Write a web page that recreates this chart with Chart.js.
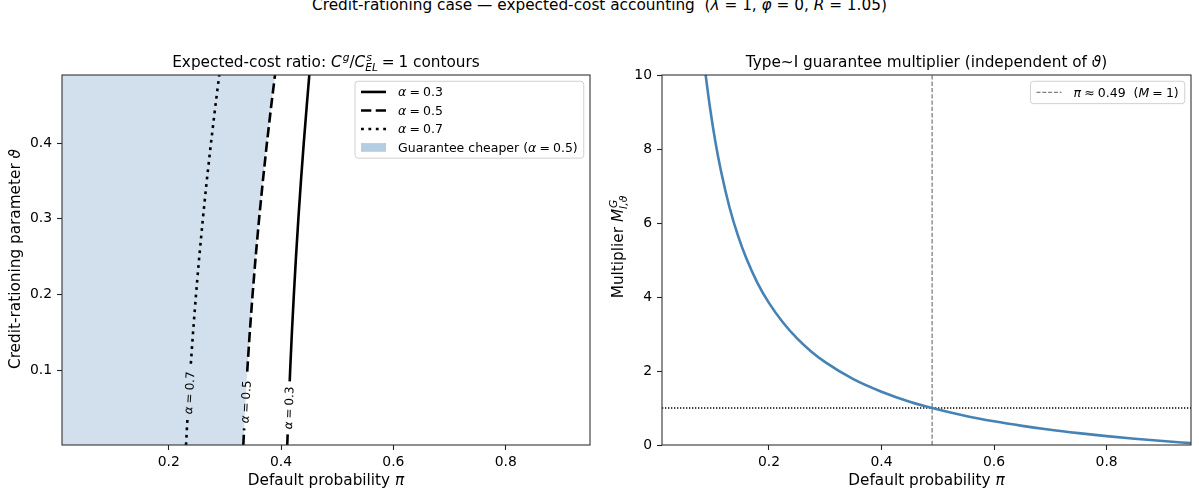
<!DOCTYPE html>
<html>
<head>
<meta charset="utf-8">
<script src="https://cdn.jsdelivr.net/npm/chart.js@4.4.1/dist/chart.umd.min.js"></script>
<style>
  body { margin: 0; background: #fff; width: 1199px; height: 497px; overflow: hidden; position: relative; }
  #sup { position: absolute; left: 0; top: -3px; width: 1199px; text-align: center; white-space: pre;
         font: 15.3px/16px "DejaVu Sans", sans-serif; color: #000; }
  canvas { position: absolute; top: 0; }
</style>
</head>
<body>
<div id="sup">Credit-rationing case — expected-cost accounting  (<i>λ</i> = 1, <i>φ</i> = 0, <i>R</i> = 1.05)</div>
<canvas id="left" width="600" height="497" style="left:0"></canvas>
<canvas id="right" width="599" height="497" style="left:600px"></canvas>
<script>
// ---- data ----
const theta = [0.001, 0.05, 0.1, 0.15, 0.2, 0.25, 0.3, 0.35, 0.4, 0.45, 0.49];
const piAlpha03 = [0.411, 0.4135, 0.4162, 0.4193, 0.4228, 0.4266, 0.4308, 0.4354, 0.4404, 0.4458, 0.4503];
const piAlpha05 = [0.3328, 0.3361, 0.3399, 0.3443, 0.3493, 0.3548, 0.3609, 0.3676, 0.3748, 0.3826, 0.3892];
const piAlpha07 = [0.2308, 0.2344, 0.2386, 0.2433, 0.2486, 0.2544, 0.2608, 0.2677, 0.2752, 0.2832, 0.29];
const alphaLabels = ['0.3', '0.5', '0.7'];
const labelPi = [0.4133, 0.3365, 0.2361];
const labelTheta = [0.050, 0.058, 0.070];

const piGrid = [0.085, 0.095, 0.105, 0.115, 0.13, 0.145, 0.16, 0.18, 0.2, 0.225, 0.25, 0.275, 0.3,
                0.35, 0.4, 0.45, 0.49, 0.55, 0.6, 0.65, 0.7, 0.75, 0.8, 0.85, 0.9, 0.95];
const multiplier = [10.3, 9.15, 8.18, 7.39, 6.42, 5.66, 5.04, 4.37, 3.84, 3.31, 2.88, 2.53, 2.24,
                    1.78, 1.44, 1.17, 1.0, 0.785, 0.64, 0.517, 0.41, 0.32, 0.24, 0.17, 0.107, 0.05];
const piStar = 0.49;
const mOne = 1;

const piRange = [0.01, 0.95];
const thetaRange = [0.001, 0.49];
const mRange = [0, 10];
const piTicks = [0.2, 0.4, 0.6, 0.8];
const thetaTicks = [0.1, 0.2, 0.3, 0.4];
const mTicks = [0, 2, 4, 6, 8, 10];

// ---- helpers ----
const FAM = '"DejaVu Sans", sans-serif';
const LBL = 15.3;
const pts = (xs, ys) => xs.map((x, i) => ({ x: x, y: ys[i] }));
function setFont(ctx, size, it) { ctx.font = (it ? 'italic ' : '') + size + 'px ' + FAM; }
function segWidth(ctx, s, size) {
  if (s.gap) return s.gap * size;
  if (s.sup !== undefined || s.sub !== undefined) {
    setFont(ctx, size * 0.7, true);
    return Math.max(s.sup ? ctx.measureText(s.sup).width + 1 : 0, s.sub ? ctx.measureText(s.sub).width : 0);
  }
  setFont(ctx, size, s.it);
  return ctx.measureText(s.t).width;
}
function richWidth(ctx, segs, size) { return segs.reduce((a, s) => a + segWidth(ctx, s, size), 0); }
function drawRich(ctx, segs, x, y, size, align) {
  const w = richWidth(ctx, segs, size);
  let cx = align === 'center' ? x - w / 2 : align === 'right' ? x - w : x;
  ctx.textBaseline = 'alphabetic';
  ctx.textAlign = 'left';
  ctx.fillStyle = '#000';
  for (const s of segs) {
    const sw = segWidth(ctx, s, size);
    if (s.sup !== undefined || s.sub !== undefined) {
      setFont(ctx, size * 0.7, true);
      if (s.sup) ctx.fillText(s.sup, cx + 1, y - size * 0.42);
      if (s.sub) ctx.fillText(s.sub, cx, y + size * 0.24);
    } else if (!s.gap) {
      setFont(ctx, size, s.it);
      ctx.fillText(s.t, cx, y);
    }
    cx += sw;
  }
  return w;
}
function drawRotated(ctx, segs, x, y, size, ang) {
  ctx.save();
  ctx.translate(x, y);
  ctx.rotate(ang);
  drawRich(ctx, segs, 0, 0, size, 'center');
  ctx.restore();
}
const eq = (a, b) => [{ t: a, it: 1 }, { gap: 0.25 }, { t: '=' }, { gap: 0.25 }, { t: b }];

function drawLegend(ctx, area, rows, fs, margin, gap) {
  const pad = 0.4 * fs + 1, hl = 2 * fs, hp = 0.8 * fs + 2;
  const tw = Math.max(...rows.map(r => richWidth(ctx, r.segs, fs)));
  const w = pad * 2 + hl + hp + tw;
  const h = margin * 2 + gap * (rows.length - 1);
  const right = area.right - 0.5 * fs, top = area.top + 0.5 * fs, left = right - w;
  ctx.save();
  ctx.beginPath();
  ctx.roundRect(left, top, w, h, 3);
  ctx.fillStyle = 'rgba(255,255,255,0.8)';
  ctx.fill();
  ctx.strokeStyle = '#d0d0d0';
  ctx.lineWidth = 1;
  ctx.stroke();
  rows.forEach((r, i) => {
    const cy = top + margin + i * gap;
    const hx = left + pad;
    if (r.patch) {
      ctx.fillStyle = r.patch;
      ctx.fillRect(hx, cy - 0.35 * fs, hl, 0.7 * fs);
    } else {
      ctx.beginPath();
      ctx.setLineDash(r.dash);
      ctx.strokeStyle = r.color;
      ctx.lineWidth = r.width;
      ctx.moveTo(hx, cy);
      ctx.lineTo(hx + hl, cy);
      ctx.stroke();
      ctx.setLineDash([]);
    }
    drawRich(ctx, r.segs, hx + hl + hp, cy + 0.36 * fs, fs, 'left');
  });
  ctx.restore();
}

function frame(ctx, a) {
  ctx.save();
  ctx.strokeStyle = '#333';
  ctx.lineWidth = 1.1;
  ctx.strokeRect(a.left, a.top, a.right - a.left, a.bottom - a.top);
  ctx.restore();
}

function axisCfg(range, ticks, fmt, isX) {
  return {
    type: 'linear',
    min: range[0],
    max: range[1],
    afterBuildTicks: s => { s.ticks = ticks.map(v => ({ value: v })); },
    afterFit: s => { if (isX) s.height = 52; else s.width = 62; },
    ticks: { autoSkip: false, maxRotation: 0, padding: isX ? 4 : 5, color: '#000',
             font: { family: 'DejaVu Sans', size: 13.9 }, callback: fmt },
    grid: { drawOnChartArea: false, drawTicks: true, tickLength: 5, tickColor: '#222', tickWidth: 1.1 },
    border: { display: false }
  };
}

const dashStyles = [[], [10.3, 4.4], [2.8, 4.6]];
const contourPi = [piAlpha03, piAlpha05, piAlpha07];
const CLBL = 12;

// ---- left: contours ----
function labelGeom(chart, i) {
  const xs = chart.scales.x, ys = chart.scales.y;
  const p = contourPi[i];
  const x0 = xs.getPixelForValue(p[0]), y0 = ys.getPixelForValue(theta[0]);
  const x1 = xs.getPixelForValue(p[2]), y1 = ys.getPixelForValue(theta[2]);
  return {
    x: xs.getPixelForValue(labelPi[i]),
    y: ys.getPixelForValue(labelTheta[i]),
    ang: Math.atan2(y1 - y0, x1 - x0)
  };
}
const contourPlugin = {
  id: 'contourPlugin',
  beforeDatasetDraw(chart, args) {
    if (args.index > 2) return;
    const ctx = chart.ctx;
    const g = labelGeom(chart, args.index);
    const half = richWidth(ctx, eq('α', alphaLabels[args.index]), CLBL) / 2 + 5;
    const c = Math.cos(g.ang), s = Math.sin(g.ang), hw = 8;
    const corner = (u, v) => [g.x + u * c - v * s, g.y + u * s + v * c];
    ctx.save();
    ctx.beginPath();
    ctx.rect(0, 0, chart.width, chart.height);
    const q = [corner(-half, -hw), corner(half, -hw), corner(half, hw), corner(-half, hw)];
    ctx.moveTo(q[0][0], q[0][1]);
    q.slice(1).forEach(p => ctx.lineTo(p[0], p[1]));
    ctx.closePath();
    ctx.clip('evenodd');
  },
  afterDatasetDraw(chart, args) {
    if (args.index > 2) return;
    chart.ctx.restore();
  },
  afterDraw(chart) {
    const ctx = chart.ctx, a = chart.chartArea;
    frame(ctx, a);
    for (let i = 0; i < 3; i++) {
      const g = labelGeom(chart, i);
      ctx.save();
      ctx.translate(g.x, g.y);
      ctx.rotate(g.ang);
      drawRich(ctx, eq('α', alphaLabels[i]), 0, 4.3, CLBL, 'center');
      ctx.restore();
    }
    const cx = (a.left + a.right) / 2;
    drawRich(ctx, [{ t: 'Expected-cost ratio: ' }, { t: 'C', it: 1 }, { sup: 'g' }, { t: '/' }, { t: 'C', it: 1 },
                   { sup: 's', sub: 'EL' }, { gap: 0.25 }, { t: '=' }, { gap: 0.25 }, { t: '1' }, { t: ' contours' }],
             cx, 67, LBL, 'center');
    drawRich(ctx, [{ t: 'Default probability ' }, { t: 'π', it: 1 }], cx, 485, LBL, 'center');
    drawRotated(ctx, [{ t: 'Credit-rationing parameter ' }, { t: 'ϑ', it: 1 }], 19.5, 259, LBL, -Math.PI / 2);
    drawLegend(ctx, a, [
      { segs: eq('α', '0.3'), dash: dashStyles[0], color: '#000', width: 2.6 },
      { segs: eq('α', '0.5'), dash: dashStyles[1], color: '#000', width: 2.6 },
      { segs: eq('α', '0.7'), dash: dashStyles[2], color: '#000', width: 2.6 },
      { segs: [{ t: 'Guarantee cheaper (' }].concat(eq('α', '0.5'), [{ t: ')' }]), patch: 'rgba(70,130,180,0.4)' }
    ], 12.5, 10.7, 18.5);
  }
};

new Chart(document.getElementById('left'), {
  type: 'line',
  data: {
    datasets: [0, 1, 2].map(i => ({
      label: 'α = ' + alphaLabels[i],
      data: pts(contourPi[i], theta),
      borderColor: '#000',
      borderWidth: 2.6,
      borderDash: dashStyles[i],
      borderCapStyle: 'butt',
      pointRadius: 0,
      fill: false
    })).concat([{
      label: 'Guarantee cheaper (α = 0.5)',
      data: [{ x: piRange[0], y: thetaRange[0] }].concat(pts(piAlpha05, theta)),
      borderWidth: 0,
      borderColor: 'rgba(0,0,0,0)',
      backgroundColor: 'rgba(70,130,180,0.25)',
      pointRadius: 0,
      fill: 'end'
    }])
  },
  options: {
    responsive: false,
    animation: false,
    events: [],
    layout: { padding: { left: 0, right: 10, top: 75, bottom: 0 } },
    plugins: { legend: { display: false }, tooltip: { enabled: false }, title: { display: false } },
    scales: {
      x: axisCfg(piRange, piTicks, v => v.toFixed(1), true),
      y: axisCfg(thetaRange, thetaTicks, v => v.toFixed(1), false)
    }
  },
  plugins: [contourPlugin]
});

// ---- right: multiplier ----
const multPlugin = {
  id: 'multPlugin',
  afterDraw(chart) {
    const ctx = chart.ctx, a = chart.chartArea;
    frame(ctx, a);
    const cx = (a.left + a.right) / 2;
    drawRich(ctx, [{ t: 'Type~I guarantee multiplier (independent of ' }, { t: 'ϑ', it: 1 }, { t: ')' }], cx, 67, LBL, 'center');
    drawRich(ctx, [{ t: 'Default probability ' }, { t: 'π', it: 1 }], cx, 485, LBL, 'center');
    drawRotated(ctx, [{ t: 'Multiplier ' }, { t: 'M', it: 1 }, { sup: 'G', sub: 'I,ϑ' }], 23, 247, LBL, -Math.PI / 2);
    drawLegend(ctx, a, [
      { segs: [{ t: 'π', it: 1 }, { gap: 0.25 }, { t: '≈' }, { gap: 0.25 }, { t: '0.49' }, { t: '  (' },
               { t: 'M', it: 1 }, { gap: 0.25 }, { t: '=' }, { gap: 0.25 }, { t: '1' }, { t: ')' }],
        dash: [4, 1.8], color: '#808080', width: 1.3 }
    ], 12.5, 11.2, 0);
  }
};

new Chart(document.getElementById('right'), {
  type: 'line',
  data: {
    datasets: [
      {
        label: 'M',
        data: pts(piGrid, multiplier),
        borderColor: '#4682b4',
        borderWidth: 2.6,
        cubicInterpolationMode: 'monotone',
        pointRadius: 0,
        fill: false
      },
      {
        label: 'π ≈ 0.49  (M = 1)',
        data: [{ x: piStar, y: mRange[0] }, { x: piStar, y: mRange[1] }],
        borderColor: '#808080',
        borderWidth: 1.3,
        borderDash: [4.3, 2],
        pointRadius: 0,
        fill: false
      },
      {
        label: 'M = 1',
        data: [{ x: piRange[0], y: mOne }, { x: piRange[1], y: mOne }],
        borderColor: '#000',
        borderWidth: 1.3,
        borderDash: [1.3, 1.7],
        pointRadius: 0,
        fill: false
      }
    ]
  },
  options: {
    responsive: false,
    animation: false,
    events: [],
    layout: { padding: { left: 0, right: 8, top: 75, bottom: 0 } },
    plugins: { legend: { display: false }, tooltip: { enabled: false }, title: { display: false } },
    scales: {
      x: axisCfg(piRange, piTicks, v => v.toFixed(1), true),
      y: axisCfg(mRange, mTicks, v => String(v), false)
    }
  },
  plugins: [multPlugin]
});
</script>
</body>
</html>
